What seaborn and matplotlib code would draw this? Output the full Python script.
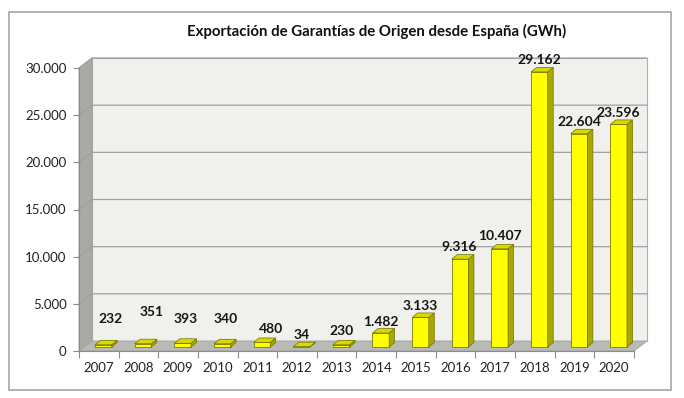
import matplotlib
matplotlib.use('Agg')
import matplotlib.pyplot as plt
from matplotlib.patches import Polygon, Rectangle
from matplotlib.ticker import FixedLocator, FuncFormatter
import numpy as np
import seaborn as sns

# Datos: exportación de garantías de origen (GWh)
years = ['2007', '2008', '2009', '2010', '2011', '2012', '2013',
         '2014', '2015', '2016', '2017', '2018', '2019', '2020']
gwh = [232, 351, 393, 340, 480, 34, 230, 1482, 3133, 9316, 10407, 29162, 22604, 23596]
y_ticks = [0, 5000, 10000, 15000, 20000, 25000, 30000]
titulo = 'Exportación de Garantías de Origen desde España (GWh)'

# ajuste manual de las etiquetas (px), como en el gráfico original
label_dx = [7, 9, 3, 3, 9, 0, 0, 0, 0, -1, 0, 0, 0, 0]
label_dy = [14, 20, 13, 13, 2, 0, 2, 0, 0, 1, 1, 0, 0, 0]

sns.set_theme(style='white')
plt.rcParams['font.family'] = ['Lato', 'DejaVu Sans']

fig = plt.figure(figsize=(6.84, 3.98), dpi=100)
ax = fig.add_axes([79 / 684, 47 / 398, 555 / 684, 283 / 398])

# conversión px -> unidades de datos
ux = 14 / 555
uy = 30000 / 283
WX, WY = 13 * ux, 10 * uy      # profundidad de las paredes
FX, FY = 4.5 * ux, 4 * uy      # posición de la cara frontal de la barra
BX, BY = 5.5 * ux, 4.5 * uy    # profundidad de la barra

# barras
sns.barplot(x=years, y=gwh, color='#ffff00', saturation=1, edgecolor='#7a7a00',
            linewidth=0.6, width=0.42, ax=ax, zorder=3)
barras = list(ax.containers[0])

# paredes 3D
ax.add_patch(Rectangle((-0.5 + WX, WY), 14, 30000, facecolor='#f0f1ec',
                       edgecolor='#b0b0b0', lw=0.8, zorder=0, clip_on=False))
ax.add_patch(Polygon([(-0.5, 0), (-0.5, 30000), (-0.5 + WX, 30000 + WY), (-0.5 + WX, WY)],
                     facecolor='#a9aaa5', edgecolor='#9a9a9a', lw=0.6, zorder=0.5, clip_on=False))
for t in y_ticks[1:]:
    ax.plot([-0.5, -0.5 + WX, 13.5 + WX], [t, t + WY, t + WY], color='#a0a0a0', lw=0.9,
            zorder=1, clip_on=False)
ax.add_patch(Polygon([(-0.5, 0), (13.5, 0), (13.5 + WX, WY), (-0.5 + WX, WY)],
                     facecolor='#b9bab5', edgecolor='#a0a0a0', lw=0.6, zorder=1.5, clip_on=False))

for i, p in enumerate(barras):
    x0 = p.get_x() + FX
    w = p.get_width()
    h = p.get_height()
    y0 = FY
    p.set_x(x0)
    p.set_y(y0)
    p.set_clip_on(False)
    lado = Polygon([(x0 + w, y0), (x0 + w, y0 + h), (x0 + w + BX, y0 + h + BY), (x0 + w + BX, y0 + BY)],
                   facecolor='#a8a800', edgecolor='#6f6f00', lw=0.5, zorder=3, clip_on=False)
    tapa = Polygon([(x0, y0 + h), (x0 + w, y0 + h), (x0 + w + BX, y0 + h + BY), (x0 + BX, y0 + h + BY)],
                   facecolor='#d9d900', edgecolor='#6f6f00', lw=0.5, zorder=3, clip_on=False)
    ax.add_patch(lado)
    ax.add_patch(tapa)
    texto = f'{gwh[i]:,}'.replace(',', '.')
    ax.annotate(texto, (x0 + w / 2, y0 + h + BY),
                xytext=(label_dx[i] * 0.72, (7 + label_dy[i]) * 0.72), textcoords='offset points',
                ha='center', va='center', fontsize=10, fontweight='bold', color='#151515',
                annotation_clip=False, zorder=5)

ax.set_xlim(-0.5, 13.5)
ax.set_ylim(0, 30000)
ax.set_facecolor('none')
ax.set_xlabel('')
ax.set_ylabel('')
for s in ['top', 'right']:
    ax.spines[s].set_visible(False)
for s in ['left', 'bottom']:
    ax.spines[s].set_color('#8c8c8c')
    ax.spines[s].set_linewidth(0.8)

ax.set_yticks(y_ticks)
ax.yaxis.set_major_formatter(FuncFormatter(lambda v, pos: f'{int(v):,}'.replace(',', '.')))
ax.tick_params(axis='y', direction='out', length=4, width=0.8, color='#8c8c8c',
               labelsize=9.5, labelcolor='#222222', pad=5, left=True)
ax.xaxis.set_minor_locator(FixedLocator(np.arange(-0.5, 14, 1)))
ax.tick_params(axis='x', which='major', length=0, labelsize=9.5, labelcolor='#222222', pad=8)
ax.tick_params(axis='x', which='minor', direction='out', length=5, width=0.8,
               color='#8c8c8c', bottom=True)

fig.text(377 / 684, 1 - 31 / 398, titulo, ha='center', va='center', fontsize=10.8,
         fontweight='bold', color='#111111')

# marco exterior
fig.add_artist(Rectangle((9 / 684, 8 / 398), 662 / 684, 378 / 398, transform=fig.transFigure,
                         fill=False, edgecolor='#a6a6a6', lw=1.2))

fig.savefig('out.png', dpi=100)
